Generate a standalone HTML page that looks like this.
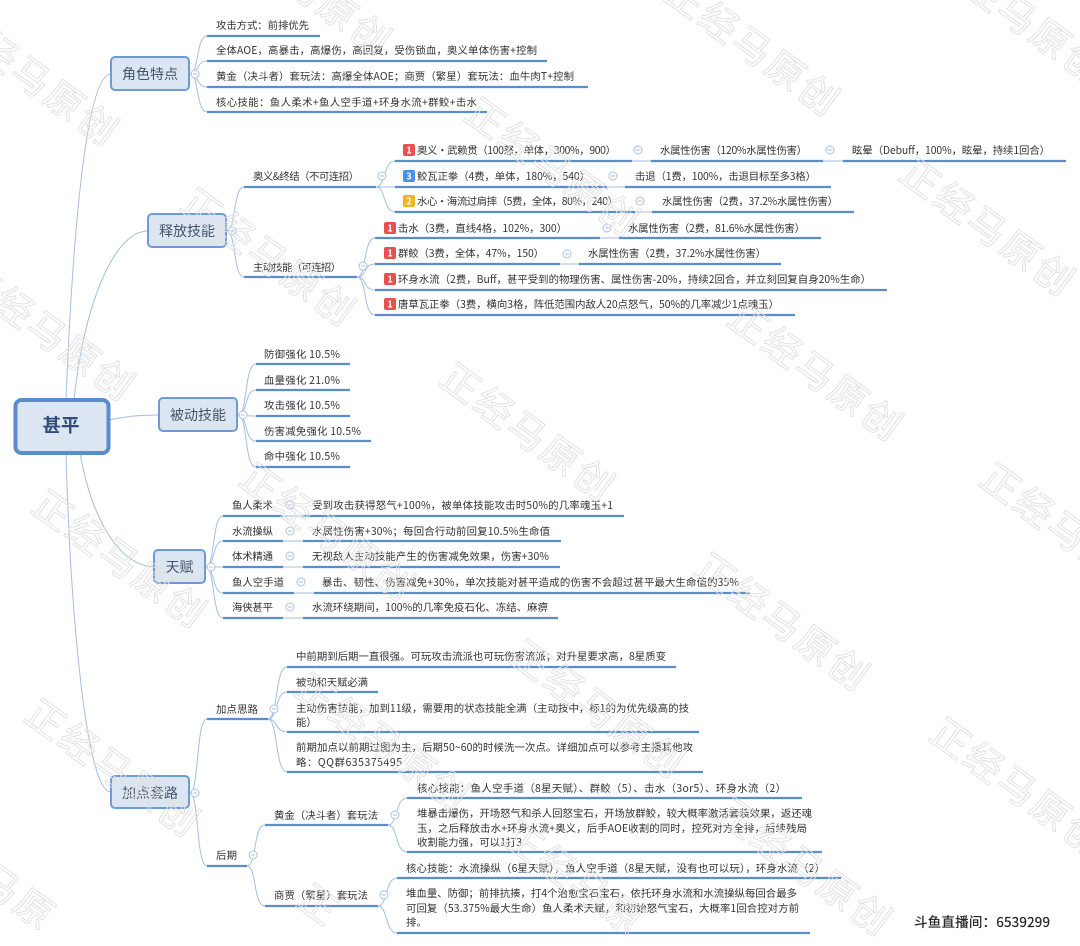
<!DOCTYPE html>
<html lang="zh"><head><meta charset="utf-8"><title>甚平</title>
<style>
html,body{margin:0;padding:0;background:#fff;width:1080px;height:946px;overflow:hidden}
svg{display:block;overflow:hidden}
text{font-family:"Liberation Sans","Noto Sans CJK SC",sans-serif}
.t text{font-family:"Noto Sans CJK SC","Liberation Sans",sans-serif;font-size:10.4px;fill:#333}
.u path{stroke:#5b8dcb;stroke-width:2.2;fill:none}
.b path{stroke:#a3bfe2;stroke-width:1;fill:none}
.n rect{fill:#dce6f3;stroke:#6d9bd3;stroke-width:2}
.n text{font-family:"Noto Sans CJK SC",sans-serif;font-size:14px;fill:#44546a;text-anchor:middle}
.g text{font-family:"Noto Sans CJK SC",sans-serif;font-size:9px;font-weight:700;fill:#fff;text-anchor:middle}
.w text{font-family:"Noto Sans CJK SC",sans-serif;font-size:38px;letter-spacing:3px;fill:none;stroke:#e0e0e0;stroke-width:.9;text-anchor:middle;dominant-baseline:central}
</style></head><body>
<svg width="1080" height="946" viewBox="0 0 1080 946" xmlns="http://www.w3.org/2000/svg">
<defs><g id="c"><circle r="4" fill="#fff" stroke="#a9c1e2" stroke-width="1"/><path d="M-2 0H2" stroke="#a9c1e2" stroke-width="1"/></g></defs>
<rect width="1080" height="946" fill="#fff"/>

<g class="b">
<path d="M66 399C72 250 85 74 111 74"/>
<path d="M74 399C85 300 115 231 148 231"/>
<path d="M109 420C125 417 135 415 159 415"/>
<path d="M80 453C90 510 115 565 154 567"/>
<path d="M66 453C70 600 85 792 111 792"/>
<path d="M190 74C199 74 196 36 207 36M190 74C199 74 196 61 207 61M190 74C199 74 196 87 207 87M190 74C199 74 196 112 207 112"/>
<path d="M227 231C236 231 233 187 244 187M227 231C236 231 233 277 244 277"/>
<path d="M376 187C386 187 383 161 395 161M376 187H395M376 187C386 187 383 212 395 212"/>
<path d="M357 277C367 277 363 238 375 238M357 277C367 277 363 264 375 264M357 277C367 277 363 290 375 290M357 277C367 277 363 315 375 315"/>
<path d="M238 415C248 415 244 364 256 364M238 415C248 415 244 390 256 390M238 415C248 415 244 416 256 416M238 415C248 415 244 441 256 441M238 415C248 415 244 467 256 467"/>
<path d="M206 567C215 567 212 516 223 516M206 567C215 567 212 541 223 541M206 567H223M206 567C215 567 212 593 223 593M206 567C215 567 212 618 223 618"/>
<path d="M190 793C199 793 196 719 207 719M190 793C199 793 196 866 207 866"/>
<path d="M268 719C278 719 275 667 287 667M268 719C278 719 275 692 287 692M268 719C278 719 275 732 287 732M268 719C278 719 275 772 287 772"/>
<path d="M247 866C257 866 253 825 265 825M247 866C257 866 253 906 265 906"/>
<path d="M388 825C398 825 395 798 407 798M388 825C398 825 395 852 407 852"/>
<path d="M378 906C388 906 385 878 397 878M378 906C388 906 385 933 397 933"/>
<path d="M632 161H651M823 161H843M607 187H625M635 212H652M600 238H619M560 264H579M283 516H303M283 541H303M283 567H303M294 593H314M283 618H303"/>
</g>

<g class="u">
<path d="M207 36H320M207 61H547M207 87H588M207 112H487"/>
<path d="M244 187H376M244 277H357"/>
<path d="M395 161H632M651 161H823M843 161H1066M395 187H607M625 187H831M395 212H635M652 212H854"/>
<path d="M375 238H600M619 238H821M375 264H560M579 264H781M375 290H887M375 315H795"/>
<path d="M256 364H350M256 390H350M256 416H350M256 441H371M256 467H350"/>
<path d="M223 516H283M303 516H624M223 541H283M303 541H561M223 567H283M303 567H560M223 593H294M314 593H750M223 618H283M303 618H558"/>
<path d="M207 719H268M207 866H247"/>
<path d="M287 667H676M287 692H378M287 732H699M287 772H703"/>
<path d="M265 825H388M265 906H378"/>
<path d="M407 798H802M407 852H822M397 878H841M397 933H810"/>
</g>

<g class="n">
<rect x="15.5" y="400" width="93" height="53" rx="6" style="stroke:#5b8dcb;stroke-width:4"/>
<text x="61" y="432" style="font-size:18.5px;font-weight:700;fill:#2f4d78">甚平</text>
<rect x="111" y="57" width="78" height="33" rx="4"/><text x="150" y="79">角色特点</text>
<rect x="148" y="214" width="78" height="33" rx="4"/><text x="187" y="236">释放技能</text>
<rect x="159" y="398" width="78" height="33" rx="4"/><text x="198" y="420">被动技能</text>
<rect x="154" y="550" width="51" height="33" rx="4"/><text x="179.500" y="572">天赋</text>
<rect x="111" y="776" width="78" height="32" rx="4"/><text x="150" y="798">加点套路</text>
</g>

<use href="#c" x="195" y="74"/><use href="#c" x="232" y="231"/><use href="#c" x="243" y="415"/><use href="#c" x="211" y="567"/><use href="#c" x="195" y="793"/>
<use href="#c" x="382" y="176"/><use href="#c" x="363" y="266"/><use href="#c" x="638" y="150"/><use href="#c" x="830" y="150"/><use href="#c" x="613" y="176"/><use href="#c" x="640" y="201"/><use href="#c" x="607" y="228"/><use href="#c" x="567" y="254"/>
<use href="#c" x="290" y="505"/><use href="#c" x="290" y="531"/><use href="#c" x="290" y="556"/><use href="#c" x="301" y="582"/><use href="#c" x="290" y="607"/>
<use href="#c" x="274" y="709"/><use href="#c" x="253" y="855"/><use href="#c" x="395" y="815"/><use href="#c" x="384" y="895"/>

<g class="g">
<rect x="403" y="144" width="12" height="12" rx="2" fill="#e94f4f"/><text x="409" y="153.500">1</text>
<rect x="403" y="170" width="12" height="12" rx="2" fill="#4a8fe8"/><text x="409" y="179.500">3</text>
<rect x="403" y="195" width="12" height="12" rx="2" fill="#f6b21f"/><text x="409" y="204.500">2</text>
<rect x="384" y="222" width="12" height="12" rx="2" fill="#e94f4f"/><text x="390" y="231.500">1</text>
<rect x="384" y="247" width="12" height="12" rx="2" fill="#e94f4f"/><text x="390" y="256.500">1</text>
<rect x="384" y="273" width="12" height="12" rx="2" fill="#e94f4f"/><text x="390" y="282.500">1</text>
<rect x="384" y="298" width="12" height="12" rx="2" fill="#e94f4f"/><text x="390" y="307.500">1</text>
</g>

<g class="t">
<text x="216" y="29" textLength="93">攻击方式：前排优先</text>
<text x="216" y="54" textLength="321">全体AOE，高暴击，高爆伤，高回复，受伤锁血，奥义单体伤害+控制</text>
<text x="216" y="80" textLength="358">黄金（决斗者）套玩法：高爆全体AOE；商贾（繁星）套玩法：血牛肉T+控制</text>
<text x="216" y="106" textLength="261">核心技能：鱼人柔术+鱼人空手道+环身水流+群鲛+击水</text>

<text x="253" y="180" textLength="106">奥义&amp;终结（不可连招）</text>
<text x="253" y="271" textLength="88">主动技能（可连招）</text>

<text x="417" y="154" textLength="199">奥义·武赖贯（100怒，单体，300%，900）</text>
<text x="660" y="154" textLength="147">水属性伤害（120%水属性伤害）</text>
<text x="852" y="154" textLength="198">眩晕（Debuff，100%，眩晕，持续1回合）</text>
<text x="417" y="180" textLength="173">鲛瓦正拳（4费，单体，180%，540）</text>
<text x="635" y="180" textLength="181">击退（1费，100%，击退目标至多3格）</text>
<text x="417" y="205" textLength="201">水心·海流过肩摔（5费，全体，80%，240）</text>
<text x="662" y="205" textLength="176">水属性伤害（2费，37.2%水属性伤害）</text>
<text x="398" y="232" textLength="169">击水（3费，直线4格，102%，300）</text>
<text x="628" y="232" textLength="177">水属性伤害（2费，81.6%水属性伤害）</text>
<text x="398" y="257" textLength="146">群鲛（3费，全体，47%，150）</text>
<text x="588" y="257" textLength="178">水属性伤害（2费，37.2%水属性伤害）</text>
<text x="398" y="283" textLength="473">环身水流（2费，Buff，甚平受到的物理伤害、属性伤害-20%，持续2回合，并立刻回复自身20%生命）</text>
<text x="398" y="308" textLength="381">唐草瓦正拳（3费，横向3格，阵低范围内敌人20点怒气，50%的几率减少1点魂玉）</text>

<text x="264" y="358" textLength="76">防御强化 10.5%</text>
<text x="264" y="384" textLength="76">血量强化 21.0%</text>
<text x="264" y="409" textLength="76">攻击强化 10.5%</text>
<text x="264" y="435" textLength="97">伤害减免强化 10.5%</text>
<text x="264" y="460" textLength="76">命中强化 10.5%</text>

<text x="232" y="509" textLength="41">鱼人柔术</text>
<text x="232" y="535" textLength="41">水流操纵</text>
<text x="232" y="560" textLength="41">体术精通</text>
<text x="232" y="586" textLength="52">鱼人空手道</text>
<text x="232" y="611" textLength="41">海侠甚平</text>
<text x="312" y="509" textLength="301">受到攻击获得怒气+100%，被单体技能攻击时50%的几率魂玉+1</text>
<text x="312" y="535" textLength="238">水属性伤害+30%；每回合行动前回复10.5%生命值</text>
<text x="312" y="560" textLength="237">无视敌人主动技能产生的伤害减免效果，伤害+30%</text>
<text x="322" y="586" textLength="417">暴击、韧性、伤害减免+30%，单次技能对甚平造成的伤害不会超过甚平最大生命值的35%</text>
<text x="312" y="611" textLength="236">水流环绕期间，100%的几率免疫石化、冻结、麻痹</text>

<text x="216" y="713" textLength="42">加点思路</text>
<text x="216" y="859" textLength="21">后期</text>
<text x="274" y="819" textLength="104">黄金（决斗者）套玩法</text>
<text x="274" y="899" textLength="94">商贾（繁星）套玩法</text>

<text x="296" y="660" textLength="370">中前期到后期一直很强。可玩攻击流派也可玩伤害流派；对升星要求高，8星质变</text>
<text x="296" y="686" textLength="72">被动和天赋必满</text>
<text x="296" y="712" textLength="393">主动伤害技能，加到11级，需要用的状态技能全满（主动技中，标1的为优先级高的技</text>
<text x="296" y="726">能）</text>
<text x="296" y="751" textLength="397">前期加点以前期过图为主，后期50~60的时候洗一次点。详细加点可以参考主播其他攻</text>
<text x="296" y="766" textLength="106">略：QQ群635375495</text>

<text x="417" y="792" textLength="369">核心技能：鱼人空手道（8星天赋）、群鲛（5）、击水（3or5）、环身水流（2）</text>
<text x="417" y="817" textLength="395">堆暴击爆伤，开场怒气和杀人回怒宝石，开场放群鲛，较大概率激活套装效果，返还魂</text>
<text x="417" y="832" textLength="390">玉，之后释放击水+环身水流+奥义，后手AOE收割的同时，控死对方全排，后续残局</text>
<text x="417" y="846" textLength="105">收割能力强，可以1打3</text>
<text x="406" y="872" textLength="419">核心技能：水流操纵（6星天赋），鱼人空手道（8星天赋，没有也可以玩），环身水流（2）</text>
<text x="406" y="897" textLength="391">堆血量、防御；前排抗揍，打4个治愈宝石宝石，依托环身水流和水流操纵每回合最多</text>
<text x="406" y="912" textLength="393">可回复（53.375%最大生命）鱼人柔术天赋，和初始怒气宝石，大概率1回合控对方前</text>
<text x="406" y="926">排。</text>
</g>

<text x="914" y="927" textLength="136" style="font-family:'Noto Sans CJK SC',sans-serif;font-size:13.500px;fill:#222;stroke:#222;stroke-width:.2">斗鱼直播间：6539299</text>

<g class="w">
<text transform="translate(34,75) rotate(36)">正经马原创</text>
<text transform="translate(307,-15) rotate(36)">正经马原创</text>
<text transform="translate(755,45) rotate(36)">正经马原创</text>
<text transform="translate(1020,13) rotate(36)">正经马原创</text>
<text transform="translate(50,330) rotate(36)">正经马原创</text>
<text transform="translate(271,255) rotate(36)">正经马原创</text>
<text transform="translate(555,165) rotate(36)">正经马原创</text>
<text transform="translate(990,225) rotate(36)">正经马原创</text>
<text transform="translate(818,370) rotate(36)">正经马原创</text>
<text transform="translate(330,530) rotate(36)">正经马原创</text>
<text transform="translate(530,430) rotate(36)">正经马原创</text>
<text transform="translate(122,557) rotate(36)">正经马原创</text>
<text transform="translate(1070,530) rotate(36)">正经马原创</text>
<text transform="translate(785,620) rotate(36)">正经马原创</text>
<text transform="translate(385,740) rotate(36)">正经马原创</text>
<text transform="translate(600,707) rotate(36)">正经马原创</text>
<text transform="translate(807,865) rotate(36)">正经马原创</text>
<text transform="translate(1020,785) rotate(36)">正经马原创</text>
<text transform="translate(115,766) rotate(36)">正经马原创</text>
<text transform="translate(321,903) rotate(36)">正</text>
<text transform="translate(576,876) rotate(36)">正经马原</text>
<text transform="translate(-13,871) rotate(36)">正经马原</text>
</g>
</svg>
</body></html>
